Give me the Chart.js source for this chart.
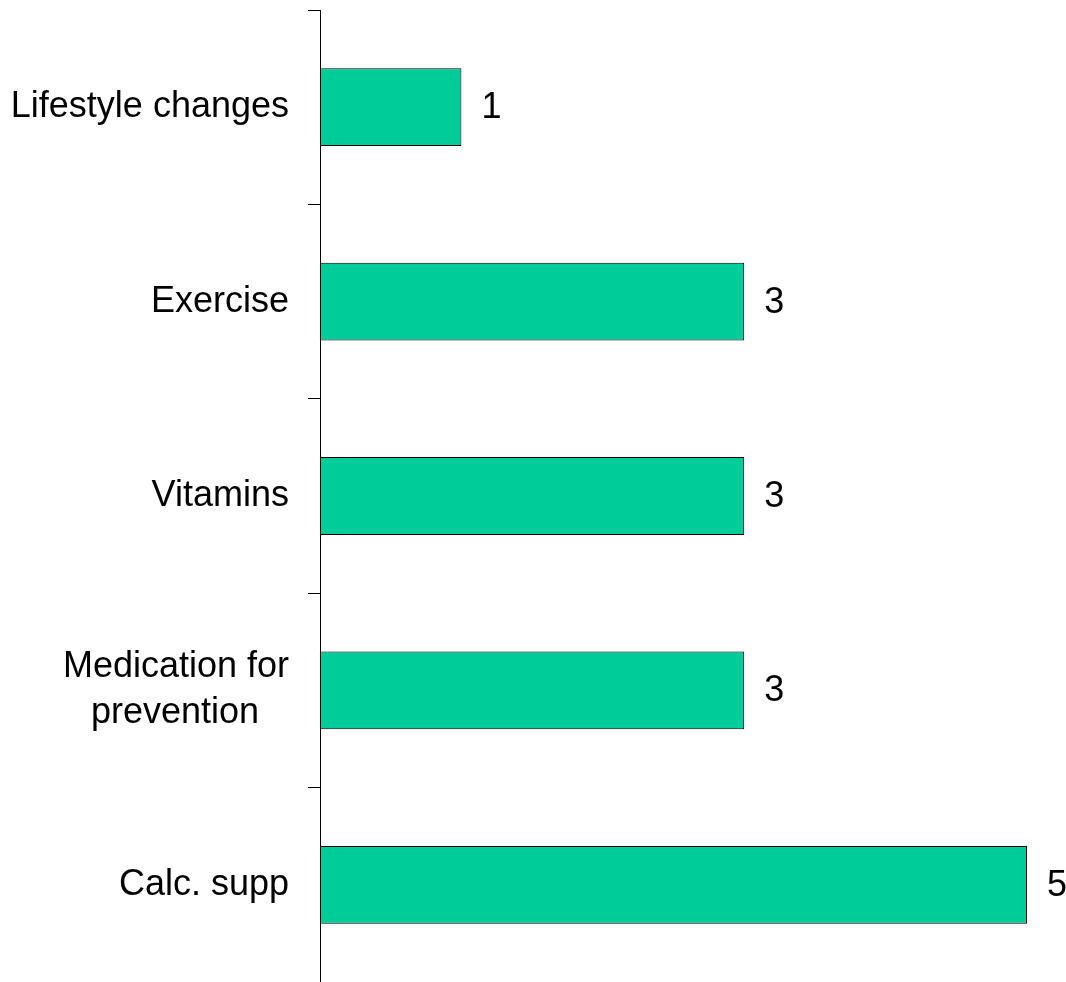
<!DOCTYPE html>
<html>
<head>
<meta charset="utf-8">
<script src="https://cdn.jsdelivr.net/npm/chart.js@4/dist/chart.umd.min.js"></script>
<style>
	body{margin:0;background:#fff;}
	#wrap{width:1066px;height:982px;position:relative;}
</style>
</head>
<body>
<div id="wrap"><canvas id="canvas"></canvas></div>
<script>
// categories, top to bottom
var categories = ["Lifestyle changes", "Exercise", "Vitamins", ["Medication for", "prevention   "], "Calc. supp"];
var counts = [1, 3, 3, 3, 5];
var xMin = 0;
var xMax = 5;

var fontFamily = "'Liberation Sans', Arial, sans-serif";

// value next to each bar
var valueLabels = {
	id: "valueLabels",
	afterDatasetsDraw: function(chart){
		var ctx = chart.ctx;
		var meta = chart.getDatasetMeta(0);
		ctx.save();
		ctx.font = "36px " + fontFamily;
		ctx.fillStyle = "#000";
		ctx.textAlign = "left";
		ctx.textBaseline = "middle";
		for(var i = 0; i < meta.data.length; i++){
			var bar = meta.data[i];
			ctx.fillText(String(counts[i]), bar.x + 20, bar.y + 1);
		}
		ctx.restore();
	}
};

var ctx = document.getElementById("canvas").getContext("2d");
var chart = new Chart(ctx, {
	type: "bar",
	data: {
		labels: categories,
		datasets: [{
			data: counts,
			backgroundColor: "#00CC99",
			borderColor: "#000",
			borderWidth: 1,
			borderSkipped: false,
			barPercentage: 0.4,
			categoryPercentage: 1
		}]
	},
	options: {
		indexAxis: "y",
		responsive: true,
		maintainAspectRatio: false,
		animation: false,
		layout: {padding: {left: 10, top: 10, right: 39, bottom: 0}},
		plugins: {legend: {display: false}, tooltip: {enabled: false}},
		scales: {
			x: {display: false, min: xMin, max: xMax},
			y: {
				afterFit: function(scale){
					scale.width = 310;
					scale.paddingTop = 0;
					scale.paddingBottom = 0;
				},
				border: {display: true, color: "#000", width: 1},
				grid: {drawOnChartArea: false, drawTicks: true, tickLength: 12, color: "#000", offset: true},
				ticks: {
					color: "#000",
					padding: 19,
					font: {family: fontFamily, size: 36, lineHeight: 1.27}
				}
			}
		}
	},
	plugins: [valueLabels]
});
</script>
</body>
</html>
